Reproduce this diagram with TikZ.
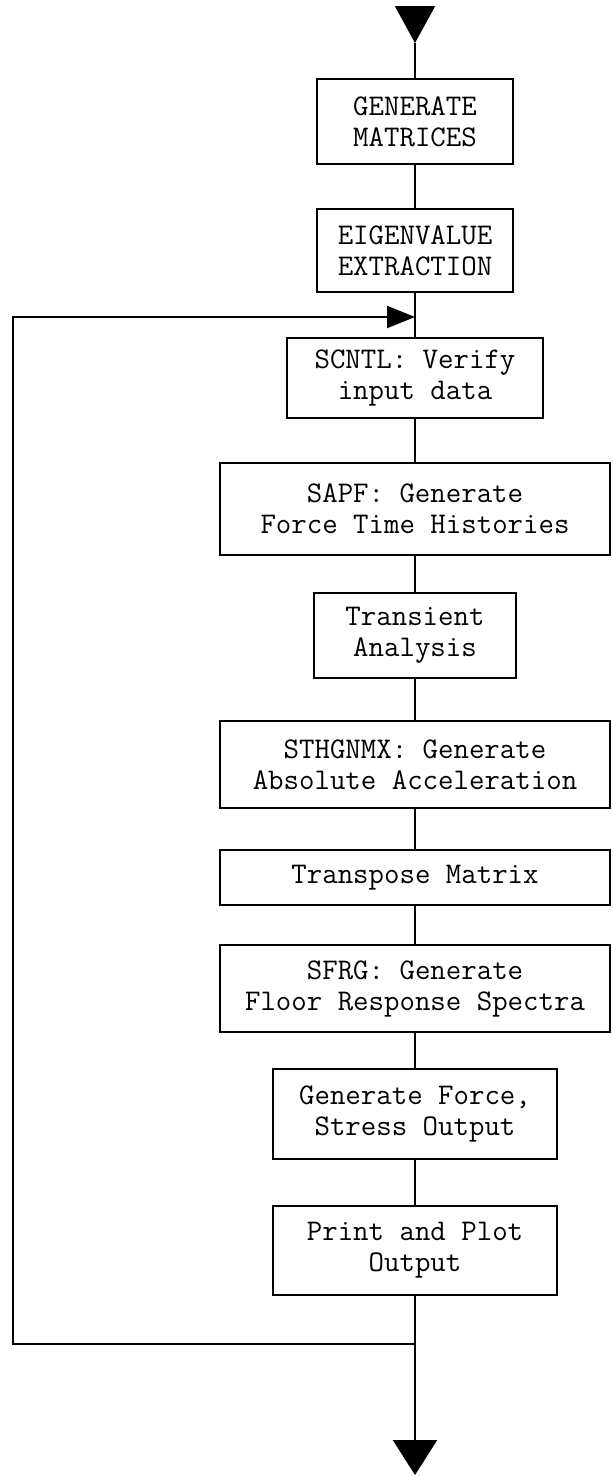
\documentclass[tikz,border=0pt]{standalone}
\usepackage{fontspec}
\usepackage{tikz}
\usetikzlibrary{arrows.meta}
\tikzset{
  procbox/.style = {draw, line width = 2pt, align = center, inner sep = 0pt,
    font = \ttfamily\fontsize{30}{31}\selectfont},
  bigtip/.style = {-{Triangle[length=#1]}},
}

\begin{document}
\begin{tikzpicture}[x = 1pt, y = -1pt, line width = 2.2pt]
			\def\xC{415};
			\def\xL{13};
			\def\wS{196};
			\def\wM{284};
			\def\wL{390};

			\useasboundingbox (0,0) rectangle (613,1476);

			\begin{scope}
				\node [procbox, minimum width = \wS, minimum height = 85] (gen) at (\xC,121.5) {GENERATE\\MATRICES};
				\node [procbox, minimum width = \wS, minimum height = 83] (eig) at (\xC,250.5) {EIGENVALUE\\EXTRACTION};
				\node [procbox, minimum width = 256, minimum height = 80] (scntl) at (\xC,378) {SCNTL: Verify\\input data};
				\node [procbox, minimum width = \wL, minimum height = 92] (sapf) at (\xC,509) {SAPF: Generate\\Force Time Histories};
				\node [procbox, minimum width = 202, minimum height = 85] (trans) at (\xC,635.5) {Transient\\Analysis};
				\node [procbox, minimum width = \wL, minimum height = 87] (sthg) at (\xC,764.5) {STHGNMX: Generate\\Absolute Acceleration};
				\node [procbox, minimum width = \wL, minimum height = 55] (tmat) at (\xC,877.5) {Transpose Matrix};
				\node [procbox, minimum width = \wL, minimum height = 87] (sfrg) at (\xC,988.5) {SFRG: Generate\\Floor Response Spectra};
				\node [procbox, minimum width = \wM, minimum height = 90] (gfso) at (\xC,1114) {Generate Force,\\Stress Output};
				\node [procbox, minimum width = \wM, minimum height = 89] (plot) at (\xC,1250.5) {Print and Plot\\Output};
			\end{scope}

			\coordinate (topin) at (\xC,6);
			\coordinate (topapex) at (\xC,43);
			\coordinate (loopin) at (\xC,317);
			\coordinate (loopNW) at (\xL,317);
			\coordinate (loopSW) at (\xL,1344);
			\coordinate (loopout) at (\xC,1344);
			\coordinate (botend) at (\xC,1475);

			\draw [-{Triangle[length=37pt, width=40pt]}] (topin) -- (topapex);
			\draw (topapex) -- (gen);
			\foreach \a/\b in {gen/eig, eig/scntl, scntl/sapf, sapf/trans, trans/sthg, sthg/tmat, tmat/sfrg, sfrg/gfso, gfso/plot}
				\draw (\a) -- (\b);

			\draw [-{Triangle[length=28pt, width=22pt]}] (loopout) -- (loopSW) -- (loopNW) -- (loopin);
			\draw [-{Triangle[length=35pt, width=44pt]}] (plot) -- (botend);
		\end{tikzpicture}
\end{document}
